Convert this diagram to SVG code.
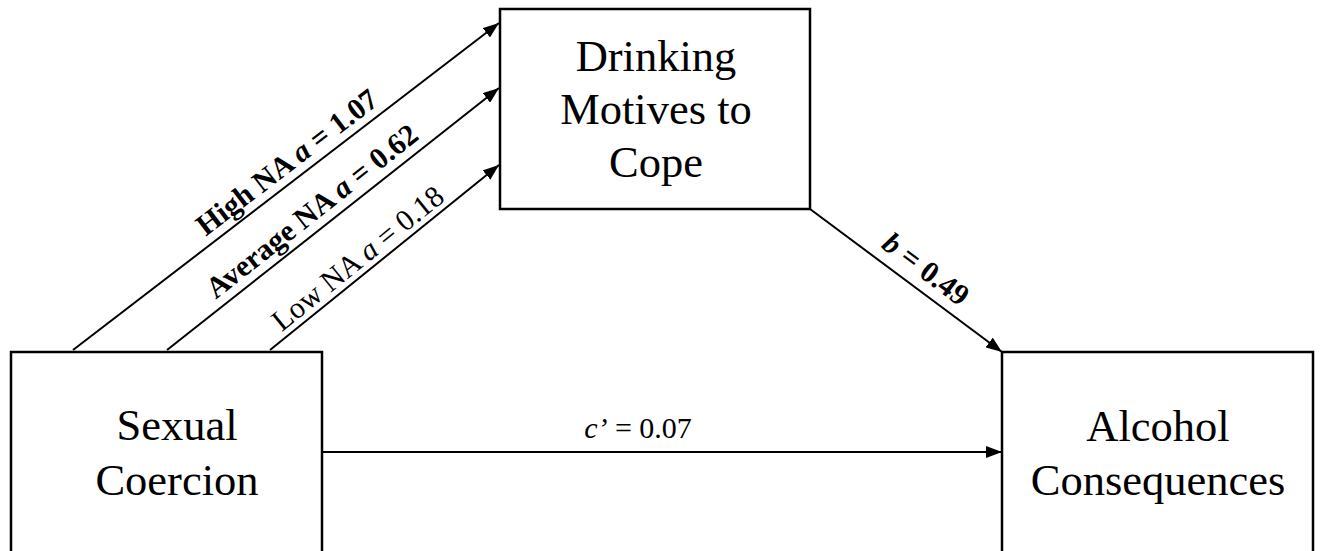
<svg xmlns="http://www.w3.org/2000/svg" width="1320" height="551" viewBox="0 0 1320 551">
<defs>
<marker id="arr" viewBox="0 0 16 12" refX="16" refY="6" markerWidth="16" markerHeight="12" markerUnits="userSpaceOnUse" orient="auto">
<path d="M0,0 L16,6 L0,12 Z" fill="#000"/>
</marker>
</defs>
<style>
.box{fill:#fff;stroke:#000;stroke-width:2.5}
.node{font-family:"Liberation Serif","Times New Roman",serif;font-size:44.5px;fill:#000;text-anchor:middle}
.edge{stroke:#000;stroke-width:2;fill:none;marker-end:url(#arr)}
.lbl{font-family:"Liberation Serif","Times New Roman",serif;font-size:30px;fill:#000;text-anchor:middle}
.b{font-weight:bold}
</style>
<rect width="1320" height="551" fill="#fff"/>
<g id="connectors">
<line class="edge" x1="73" y1="350" x2="499" y2="23"/>
<line class="edge" x1="167" y1="350" x2="499" y2="88"/>
<line class="edge" x1="270" y1="350" x2="499" y2="165"/>
<line class="edge" x1="810" y1="209" x2="1002" y2="352"/>
<line class="edge" x1="322" y1="452" x2="1002" y2="452"/>
<text class="lbl b" transform="translate(293,170) rotate(-37.4)">High NA <tspan font-style="italic">a</tspan> = 1.07</text>
<text class="lbl b" transform="translate(318,219) rotate(-38.3)">Average NA <tspan font-style="italic">a</tspan> = 0.62</text>
<text class="lbl" transform="translate(364,266) rotate(-38.9)">Low NA <tspan font-style="italic">a</tspan> = 0.18</text>
<text class="lbl b" transform="translate(920,277) rotate(36.9)"><tspan font-style="italic">b</tspan> = 0.49</text>
<text class="lbl" x="638" y="438"><tspan font-style="italic">c’</tspan> = 0.07</text>
</g>
<g id="node-drinking">
<rect class="box" x="500" y="9" width="310" height="200"/>
<text class="node" x="656" y="71">Drinking</text>
<text class="node" x="656" y="124">Motives to</text>
<text class="node" x="656" y="177">Cope</text>
</g>
<g id="node-sexual">
<rect class="box" x="11" y="352" width="311" height="205"/>
<text class="node" x="177" y="440">Sexual</text>
<text class="node" x="177" y="495">Coercion</text>
</g>
<g id="node-alcohol">
<rect class="box" x="1002" y="352" width="311" height="205"/>
<text class="node" x="1158" y="441">Alcohol</text>
<text class="node" x="1158" y="495">Consequences</text>
</g>
</svg>
